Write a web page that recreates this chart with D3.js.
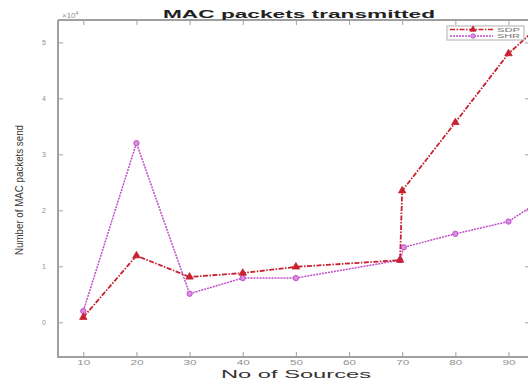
<!DOCTYPE html>
<html>
<head>
<meta charset="utf-8">
<script src="https://cdn.jsdelivr.net/npm/d3@7/dist/d3.min.js"></script>
<style>
  body { margin: 0; background: #fff; }
  svg { display: block; font-family: "Liberation Sans", Arial, sans-serif; }
</style>
</head>
<body>
<svg width="528" height="381"></svg>
<script>
// values (y in units of 10^4)
var sources = [10, 20, 30, 40, 50, 69.6, 70, 80, 90, 95];
var sdpValues = [0.09, 1.19, 0.81, 0.88, 0.99, 1.11, 2.35, 3.57, 4.8, 5.23];
var shrSources = [10, 20, 30, 40, 50, 69.6, 70.3, 80, 90, 95];
var shrValues = [0.2, 3.2, 0.51, 0.79, 0.79, 1.11, 1.34, 1.58, 1.8, 2.11];
var xTicks = [10, 20, 30, 40, 50, 60, 70, 80, 90];
var yTicks = [0, 1, 2, 3, 4, 5];
var seriesNames = ["SDP", "SHR"];

var svg = d3.select("svg");
var plotLeft = 58, plotRight = 530, plotTop = 20, plotBottom = 357;
var axisColor = "#a0a0a0";
var sdpColor = "#c8202e", shrColor = "#c04ccc";

var x = d3.scaleLinear().domain([5.24, 94.05]).range([plotLeft, plotRight]);
var y = d3.scaleLinear().domain([-0.62, 5.4]).range([plotBottom, plotTop]);

svg.append("defs").append("clipPath").attr("id", "plotclip")
  .append("rect").attr("x", plotLeft).attr("y", plotTop)
  .attr("width", plotRight - plotLeft).attr("height", plotBottom - plotTop);

// frame: left, bottom and top lines (right one is cut off)
svg.append("path")
  .attr("d", "M" + plotLeft + "," + plotTop + "V" + plotBottom + "H" + plotRight +
             "M" + plotLeft + "," + plotTop + "H" + plotRight)
  .attr("fill", "none").attr("stroke", axisColor).attr("stroke-width", 2);

// inward ticks, like matlab
function styleAxis(g) {
  g.select(".domain").remove();
  g.selectAll(".tick line").attr("stroke", axisColor).attr("stroke-width", 1);
  g.selectAll(".tick text").attr("fill", "#909090").attr("font-size", 7);
}

svg.append("g").attr("transform", "translate(0," + plotBottom + ")")
  .call(d3.axisBottom(x).tickValues(xTicks).tickSizeInner(-5).tickSizeOuter(0).tickPadding(3))
  .call(styleAxis)
  .selectAll(".tick text").attr("textLength", 13).attr("lengthAdjust", "spacingAndGlyphs");

svg.append("g").attr("transform", "translate(0," + plotTop + ")")
  .call(d3.axisTop(x).tickValues(xTicks).tickSizeInner(-5).tickSizeOuter(0).tickFormat(""))
  .call(styleAxis);

svg.append("g").attr("transform", "translate(" + plotLeft + ",0)")
  .call(d3.axisLeft(y).tickValues(yTicks).tickSizeInner(-5).tickSizeOuter(0)
    .tickPadding(12).tickFormat(d3.format("d")))
  .call(styleAxis);

svg.append("g").attr("transform", "translate(" + plotRight + ",0)")
  .call(d3.axisRight(y).tickValues(yTicks).tickSizeInner(-5).tickSizeOuter(0).tickFormat(""))
  .call(styleAxis);

// exponent label
var expo = svg.append("text").attr("x", 62).attr("y", 18)
  .attr("fill", "#909090").attr("font-size", 8).text("×10");
expo.append("tspan").attr("dy", -3).attr("font-size", 5.5).text("4");

// titles
svg.append("text").attr("x", 299).attr("y", 18).attr("text-anchor", "middle")
  .attr("font-size", 11).attr("font-weight", "bold").attr("fill", "#222")
  .attr("textLength", 272).attr("lengthAdjust", "spacingAndGlyphs")
  .text("MAC packets transmitted");

svg.append("text").attr("x", 296).attr("y", 378).attr("text-anchor", "middle")
  .attr("font-size", 11).attr("fill", "#333")
  .attr("textLength", 150).attr("lengthAdjust", "spacingAndGlyphs")
  .text("No of Sources");

svg.append("text").attr("transform", "translate(23,190) rotate(-90)")
  .attr("text-anchor", "middle").attr("font-size", 10).attr("fill", "#333")
  .attr("textLength", 130).attr("lengthAdjust", "spacingAndGlyphs")
  .text("Number of MAC packets send");

var plot = svg.append("g").attr("clip-path", "url(#plotclip)");
var line = d3.line().x(function(d) { return x(d[0]); }).y(function(d) { return y(d[1]); });

var shrData = d3.zip(shrSources, shrValues);
var sdpData = d3.zip(sources, sdpValues);

plot.append("path").datum(shrData).attr("d", line)
  .attr("fill", "none").attr("stroke", shrColor).attr("stroke-width", 1.5)
  .attr("stroke-dasharray", "2,1");

plot.append("path").datum(sdpData).attr("d", line)
  .attr("fill", "none").attr("stroke", sdpColor).attr("stroke-width", 1.8)
  .attr("stroke-dasharray", "5,1.5,1.5,1.5");

var circle = d3.symbol().type(d3.symbolCircle).size(22);
var tri = d3.symbol().type(d3.symbolTriangle).size(24);

plot.selectAll(".shr").data(shrData).enter().append("path")
  .attr("class", "shr")
  .attr("transform", function(d) { return "translate(" + x(d[0]) + "," + y(d[1]) + ")"; })
  .attr("d", circle).attr("fill", "#d890e0").attr("stroke", shrColor).attr("stroke-width", 1);

plot.selectAll(".sdp").data(sdpData).enter().append("path")
  .attr("class", "sdp")
  .attr("transform", function(d) { return "translate(" + x(d[0]) + "," + y(d[1]) + ")"; })
  .attr("d", tri).attr("fill", sdpColor).attr("stroke", sdpColor).attr("stroke-width", 0.8);

// legend
var lg = svg.append("g").attr("transform", "translate(447,26)");
lg.append("rect").attr("width", 77).attr("height", 14)
  .attr("fill", "#fff").attr("stroke", "#b0b0b0").attr("stroke-width", 1);
var colors = [sdpColor, shrColor];
var dashes = ["5,1.5,1.5,1.5", "2,1"];
var fills = [sdpColor, "#d890e0"];
seriesNames.forEach(function(name, i) {
  var row = lg.append("g").attr("transform", "translate(0," + (3.5 + i * 6.5) + ")");
  row.append("line").attr("x1", 3).attr("x2", 46)
    .attr("stroke", colors[i]).attr("stroke-width", 1.6).attr("stroke-dasharray", dashes[i]);
  row.append("path").attr("transform", "translate(26,0)")
    .attr("d", d3.symbol().type(i === 0 ? d3.symbolTriangle : d3.symbolCircle).size(16))
    .attr("fill", fills[i]).attr("stroke", colors[i]).attr("stroke-width", 0.8);
  row.append("text").attr("x", 50).attr("y", 2).attr("font-size", 5.5).attr("fill", "#777")
    .attr("textLength", 23).attr("lengthAdjust", "spacingAndGlyphs").text(name);
});
</script>
</body>
</html>
